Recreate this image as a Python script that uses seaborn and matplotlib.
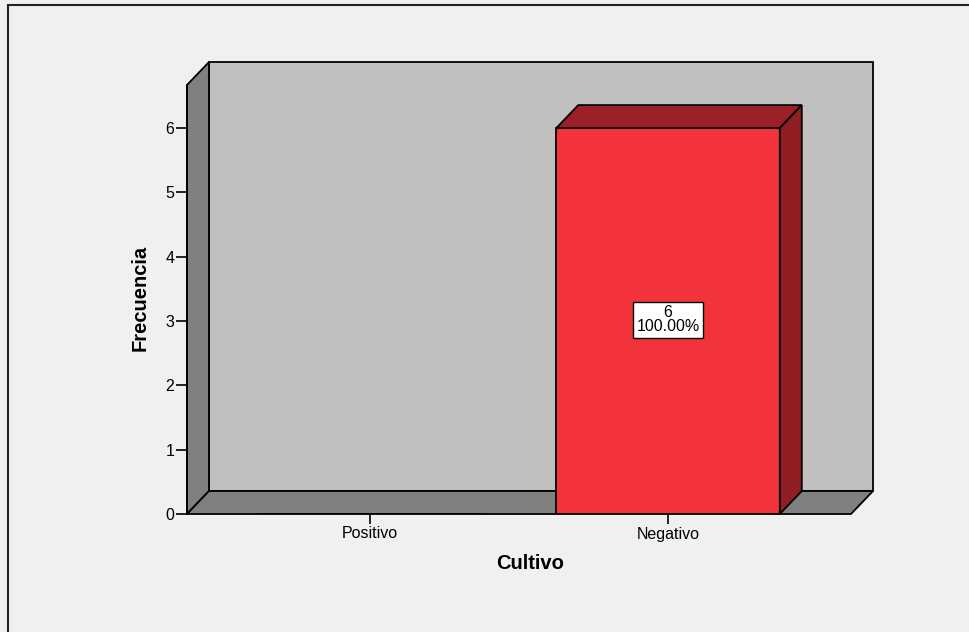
import matplotlib
matplotlib.use("Agg")
import matplotlib.pyplot as plt
from matplotlib.patches import Polygon, Rectangle
import seaborn as sns
import pandas as pd

# Datos del grafico
categorias = ["Positivo", "Negativo"]
frecuencias = [0, 6]
porcentajes = [0.0, 100.0]
yticks = [0, 1, 2, 3, 4, 5, 6]

sns.set_style("white")
plt.rcParams['font.family'] = ['Liberation Sans', 'DejaVu Sans']
plt.rcParams['text.color'] = 'black'
plt.rcParams['axes.labelcolor'] = 'black'
plt.rcParams['xtick.color'] = 'black'
plt.rcParams['ytick.color'] = 'black'

BG = "#f0f0f0"
fig = plt.figure(figsize=(9.7, 6.32), dpi=100, facecolor=BG)

# Marco exterior
fig.patches.append(Rectangle((8 / 970, -0.05), 1.2, (632 - 5) / 632 + 0.05,
                             transform=fig.transFigure, fill=False,
                             edgecolor="#222222", linewidth=1.5))

# ejes: cubren la cara frontal mas la profundidad
W, H = 970, 632
ax = fig.add_axes([187 / W, (H - 514) / H, (873 - 187) / W, (514 - 62) / H])
ax.set_facecolor("none")

x0, x1 = -0.614, 1.614
ytop = 6.67
dx, dy = 0.0738, 0.3575

gris_claro = "#c0c0c0"
gris_osc = "#808080"
lw = 1.3

df = pd.DataFrame({"Cultivo": categorias, "Frecuencia": frecuencias})
ancho = 0.75
sns.barplot(data=df, x="Cultivo", y="Frecuencia", order=categorias, width=ancho,
            color="#f2333b", saturation=1, edgecolor="black", linewidth=lw, ax=ax, zorder=3)

ax.set_xlim(x0, x1 + dx)
ax.set_ylim(0, ytop + dy)

# pared del fondo, pared izquierda y piso
ax.add_patch(Polygon([(x0 + dx, dy), (x1 + dx, dy), (x1 + dx, ytop + dy), (x0 + dx, ytop + dy)],
                     closed=True, facecolor=gris_claro, edgecolor="black", linewidth=lw,
                     zorder=0.5, clip_on=False))
ax.add_patch(Polygon([(x0, 0), (x0 + dx, dy), (x0 + dx, ytop + dy), (x0, ytop)],
                     closed=True, facecolor=gris_osc, edgecolor="black", linewidth=lw,
                     zorder=0.6, clip_on=False))
ax.add_patch(Polygon([(x0, 0), (x1, 0), (x1 + dx, dy), (x0 + dx, dy)],
                     closed=True, facecolor=gris_osc, edgecolor="black", linewidth=lw,
                     zorder=0.6, clip_on=False))

# caras 3D de las barras
for i, v in enumerate(frecuencias):
    if v <= 0:
        continue
    bl, br = i - ancho / 2, i + ancho / 2
    ax.add_patch(Polygon([(bl, v), (bl + dx, v + dy), (br + dx, v + dy), (br, v)],
                         closed=True, facecolor="#9b1f26", edgecolor="black", linewidth=lw, zorder=3))
    ax.add_patch(Polygon([(br, 0), (br + dx, dy), (br + dx, v + dy), (br, v)],
                         closed=True, facecolor="#901e22", edgecolor="black", linewidth=lw, zorder=3))
    ax.text(i, v / 2 + 0.02, f"{v}\n{porcentajes[i]:.2f}%", ha="center", va="center",
            fontsize=11.5, linespacing=0.95, zorder=5,
            bbox=dict(boxstyle="square,pad=0.2", facecolor="white", edgecolor="black", linewidth=1))

# eje y
for s in ax.spines.values():
    s.set_visible(False)
ax.plot([x0, x0], [0, ytop], color="black", linewidth=lw, zorder=4, clip_on=False)
ax.set_yticks(yticks)
ax.set_xticks(range(len(categorias)))
ax.set_xticklabels(categorias)
ax.tick_params(axis="y", left=True, length=8, width=1.2, color="black", labelsize=11.5, pad=1)
ax.tick_params(axis="x", bottom=True, length=7, width=1.2, color="black", labelsize=11.5, pad=2)

ax.set_xlabel("Cultivo", fontsize=14.5, fontweight="bold", labelpad=9)
ax.set_ylabel("Frecuencia", fontsize=14.5, fontweight="bold", labelpad=12)
ax.yaxis.set_label_coords(-0.054, 0.478)

fig.savefig("out.png", dpi=100, facecolor=BG)
